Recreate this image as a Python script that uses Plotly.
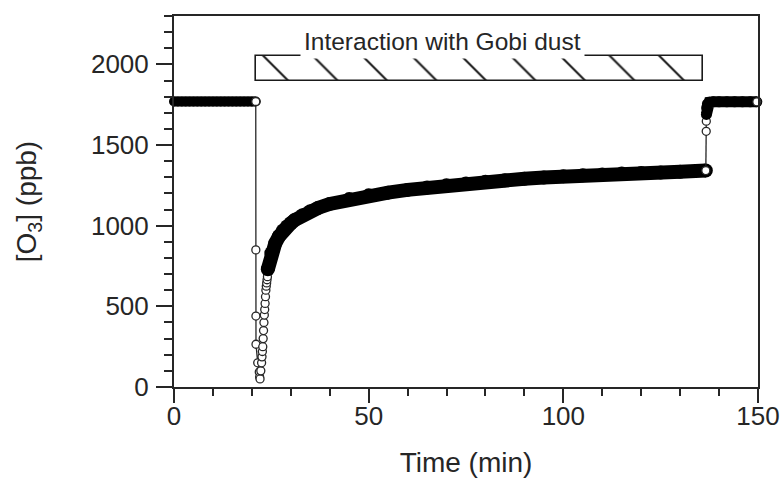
import plotly.graph_objects as go

# ---- data ----
# baseline before exposure
t_pre = [0, 1, 2, 3, 4, 5, 6, 7, 8, 9, 10, 11, 12, 13, 14, 15, 16, 17, 18, 19, 20, 21.0]
o3_pre = [1770, 1770, 1770, 1770, 1770, 1770, 1770, 1770, 1770, 1770, 1770,
          1770, 1770, 1770, 1770, 1770, 1770, 1770, 1770, 1770, 1770, 1770]

# sharp drop when dust is introduced (individually visible points)
t_drop = [21.0, 21.02, 21.04, 21.06, 21.5, 21.9, 22.0, 22.1, 22.3, 22.5,
          22.6, 22.7, 22.8, 22.9, 23.0, 23.1, 23.2, 23.3, 23.4, 23.5,
          23.6, 23.7, 23.8, 23.9, 24.0, 24.1]
o3_drop = [1770, 850, 440, 265, 150, 93, 62, 50, 100, 150,
           187, 220, 250, 300, 350, 400, 446, 480, 518, 560,
           600, 625, 645, 665, 684, 730]

# recovery during exposure (dense points)
t_rec = [24.1, 25, 26, 27, 28, 29, 30, 31, 33, 35, 37, 40, 45, 50, 55, 60, 65,
         70, 75, 80, 85, 90, 95, 100, 105, 110, 115, 120, 125, 130, 136.6]
o3_rec = [730, 830, 890, 935, 970, 995, 1015, 1035, 1065, 1090, 1110, 1135, 1165,
          1188, 1205, 1222, 1237, 1250, 1262, 1273, 1282, 1291, 1299, 1307, 1313,
          1318, 1323, 1327, 1330, 1334, 1342]

# jump back after the dust is removed
t_jump = [136.6, 136.7, 136.72, 136.74]
o3_jump = [1342, 1585, 1648, 1700]

t_post = [136.75, 136.8, 137.0, 137.5, 138.5, 140, 142, 144, 146, 148, 149.7]
o3_post = [1690, 1730, 1755, 1765, 1768, 1768, 1768, 1768, 1768, 1768, 1768]

t_end = [149.7]
o3_end = [1768]

# exposure period bar
dust_start, dust_end = 21.0, 135.9
bar_bottom, bar_top = 1900, 2050
bar_label = "Interaction with Gobi dust"
label_t, label_o3 = 69.0, 2143

x_ticks = [0, 50, 100, 150]
y_ticks = [0, 500, 1000, 1500, 2000]

INK = "#262626"
FONT = "Liberation Sans, Arial, Helvetica, sans-serif"

fig = go.Figure()

fig.add_trace(go.Bar(
    y=[(bar_bottom + bar_top) / 2], x=[dust_end - dust_start], base=[dust_start],
    width=[bar_top - bar_bottom], orientation="h",
    marker=dict(color="white", line=dict(color="#1a1a1a", width=1.6),
                pattern=dict(shape="\\", fgcolor="#1a1a1a", bgcolor="white",
                             size=35, solidity=0.06, fillmode="replace")),
    hoverinfo="skip", showlegend=False))

def band(t, y, w):
    return go.Scatter(x=t, y=y, mode="lines+markers",
                      line=dict(color="black", width=w),
                      marker=dict(symbol="circle", size=w, color="black", line=dict(width=0)),
                      cliponaxis=False, showlegend=False, hoverinfo="skip")

def circles(t, y):
    return go.Scatter(x=t, y=y, mode="lines+markers",
                      line=dict(color=INK, width=1.3),
                      marker=dict(symbol="circle", size=8, color="white",
                                  line=dict(color=INK, width=1.3)),
                      cliponaxis=False, showlegend=False, hoverinfo="skip")

fig.add_trace(band(t_pre, o3_pre, 10))
fig.add_trace(circles(t_drop, o3_drop))
fig.add_trace(band(t_rec, o3_rec, 14))
fig.add_trace(circles(t_jump, o3_jump))
fig.add_trace(band(t_post, o3_post, 11))
fig.add_trace(circles(t_end, o3_end))

fig.add_annotation(x=label_t, y=label_o3, xref="x", yref="y", text=bar_label,
                   showarrow=False, bgcolor="white", borderpad=3,
                   font=dict(family=FONT, size=24.5, color=INK))

axis_common = dict(
    showline=True, linewidth=2, linecolor=INK, mirror=True,
    ticks="outside", tickwidth=2, tickcolor=INK, automargin=False,
    showgrid=False, zeroline=False, ticklabeloverflow="allow",
    tickfont=dict(family=FONT, size=26, color=INK),
)

fig.update_xaxes(range=[0, 150], tickvals=x_ticks, ticklen=14, ticklabelstandoff=-9,
                 minor=dict(dtick=10, ticklen=7, tickwidth=1.5, ticks="outside", tickcolor=INK),
                 title=dict(text="Time (min)", font=dict(family=FONT, size=28, color=INK), standoff=22),
                 **axis_common)
fig.update_yaxes(range=[0, 2300], tickvals=y_ticks, ticklen=16, ticklabelstandoff=2,
                 minor=dict(dtick=100, ticklen=8, tickwidth=1.5, ticks="outside", tickcolor=INK),
                 title=dict(text="[O<sub>3</sub>] (ppb)", font=dict(family=FONT, size=28, color=INK), standoff=46),
                 **axis_common)

fig.update_layout(
    template="none",
    width=782, height=478,
    margin=dict(l=174, r=24, t=16, b=91),
    plot_bgcolor="white", paper_bgcolor="white",
    showlegend=False, bargap=0,
)

fig.write_html("out.html")
